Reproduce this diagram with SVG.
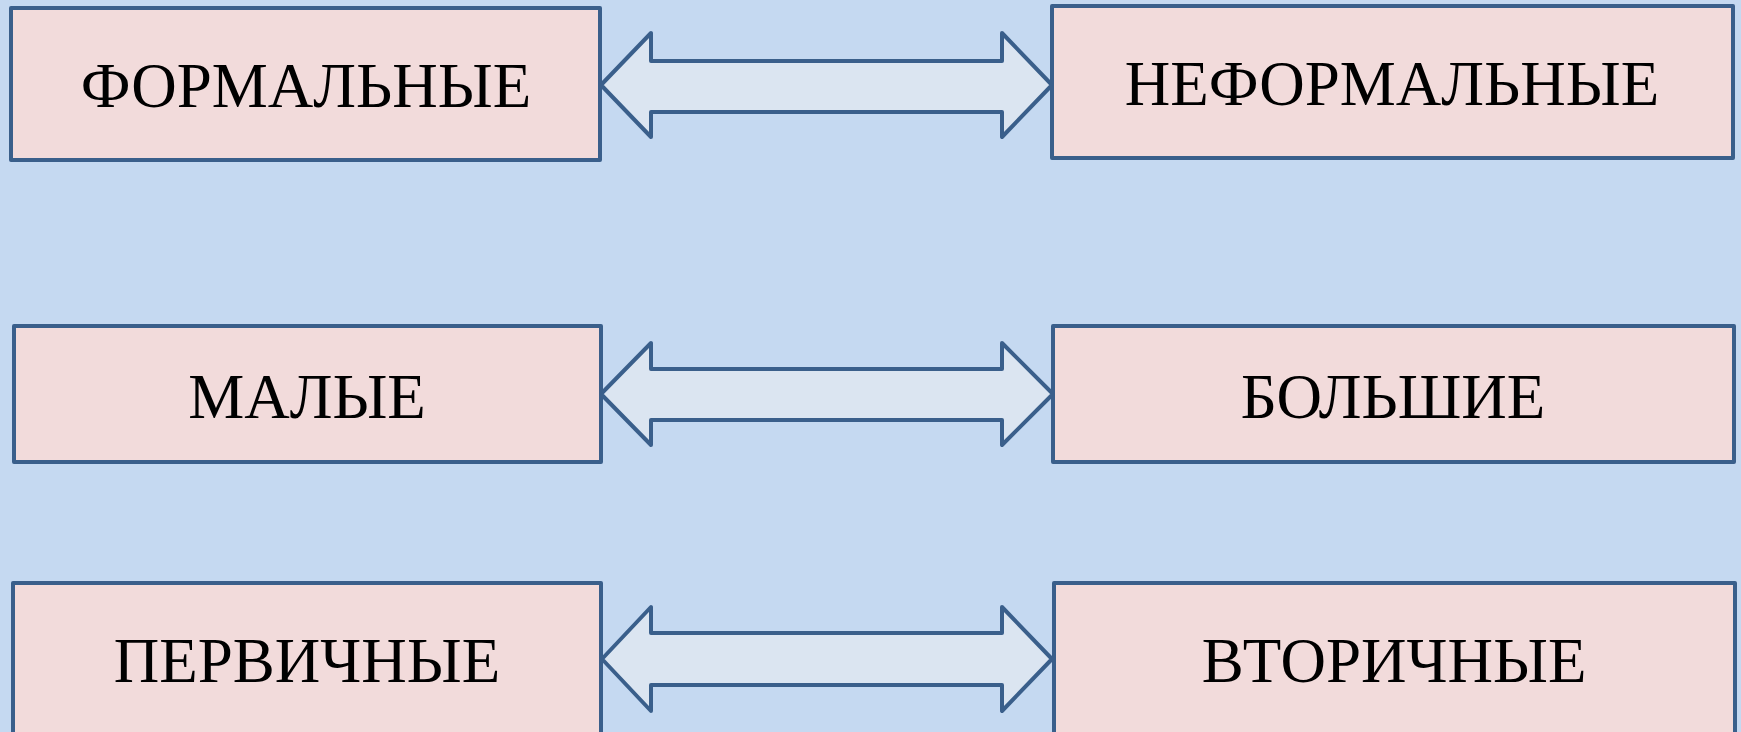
<svg xmlns="http://www.w3.org/2000/svg" width="1741" height="732" viewBox="0 0 1741 732">
<style>
.box{fill:#F2DBDB;stroke:#3A5F8B;stroke-width:4;stroke-linejoin:round}
.arr{fill:#DBE5F1;stroke:#3A5F8B;stroke-width:4;stroke-linejoin:round}
.t{font-family:"Liberation Serif","Times New Roman",serif;font-size:63px;fill:#000;text-anchor:middle}
</style>
<rect width="1741" height="732" fill="#C5D9F1"/>
<g id="connectors">
<path class="arr" d="M601,85 L651,33 L651,61 L1002,61 L1002,33 L1052,85 L1002,137 L1002,112 L651,112 L651,137 Z"/>
<path class="arr" d="M601,394 L651,343 L651,369 L1002,369 L1002,343 L1053,394 L1002,445 L1002,420 L651,420 L651,445 Z"/>
<path class="arr" d="M602,659 L651,607 L651,633 L1002,633 L1002,607 L1052,659 L1002,711 L1002,685 L651,685 L651,711 Z"/>
</g>
<g id="n-formal"><rect class="box" x="11" y="8" width="589" height="152"/><text class="t" x="306" y="107">ФОРМАЛЬНЫЕ</text></g>
<g id="n-neformal"><rect class="box" x="1052" y="6" width="681" height="152"/><text class="t" x="1392" y="105">НЕФОРМАЛЬНЫЕ</text></g>
<g id="n-malye"><rect class="box" x="14" y="326" width="587" height="136"/><text class="t" x="307" y="418">МАЛЫЕ</text></g>
<g id="n-bolshie"><rect class="box" x="1053" y="326" width="681" height="136"/><text class="t" x="1393" y="418">БОЛЬШИЕ</text></g>
<g id="n-pervichnye"><rect class="box" x="13" y="583" width="588" height="170"/><text class="t" x="307" y="682">ПЕРВИЧНЫЕ</text></g>
<g id="n-vtorichnye"><rect class="box" x="1054" y="583" width="681" height="170"/><text class="t" x="1394" y="682">ВТОРИЧНЫЕ</text></g>
</svg>
